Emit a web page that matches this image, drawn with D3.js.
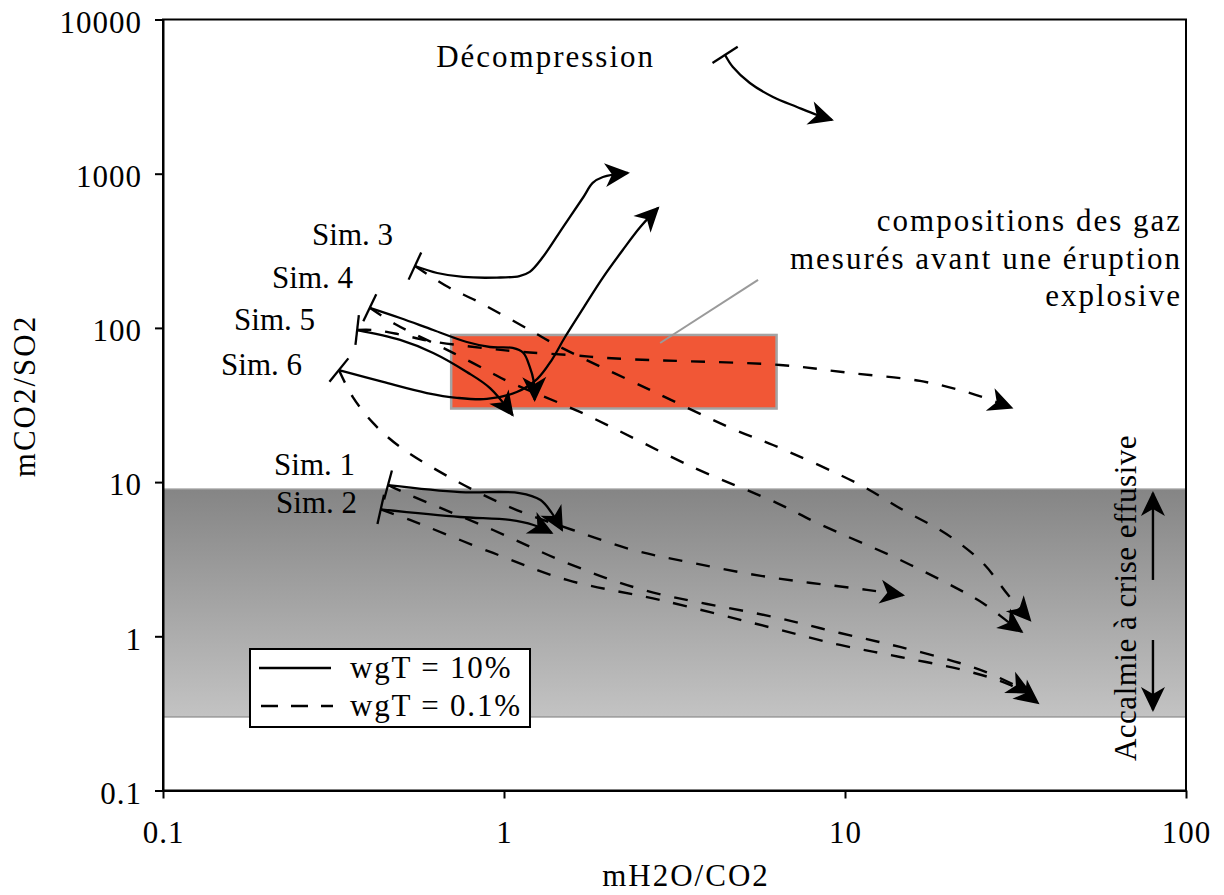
<!DOCTYPE html>
<html><head><meta charset="utf-8">
<script src="https://cdn.jsdelivr.net/npm/d3@7"></script>
<style>
body{margin:0;background:#fff}
svg{display:block}
svg text{font-family:"Liberation Serif","Tinos","Times New Roman","DejaVu Serif","Noto Serif",serif !important;fill:#000}
</style>
</head><body>
<svg id="chart" width="1224" height="895"></svg>
<script>
// ---------- data ----------
const xTickValues = [0.1, 1, 10, 100];
const xTickLabels = ["0.1", "1", "10", "100"];
const yTickValues = [0.1, 1, 10, 100, 1000, 10000];
const yTickLabels = ["0.1", "1", "10", "100", "1000", "10000"];

const simNames = ["Sim. 1", "Sim. 2", "Sim. 3", "Sim. 4", "Sim. 5", "Sim. 6"];
const legendLabels = ["wgT = 10%", "wgT = 0.1%"];

const effusiveYRange = [0.3, 9];
const explosiveXRange = [0.7, 6.3];
const explosiveYRange = [30, 90];
const leaderX = [2.87, 5.56];
const leaderY = [79.8, 205];

const decompX = [4.45, 4.69, 5.26, 6.15, 7.23, 8.28, 9.16];
const decompY = [5890, 4920, 3875, 3143, 2708, 2403, 2230];

const sim1SolidX = [0.457, 0.743, 1.11, 1.28, 1.38, 1.48];
const sim1SolidY = [9.57, 8.62, 8.49, 7.65, 6.31, 4.89];
const sim1DashX = [0.457, 0.530, 0.929, 1.53, 2.56, 6.32, 9.67, 14.5, 21.7, 27.2, 34.9];
const sim1DashY = [9.57, 8.24, 4.89, 2.99, 2.00, 1.32, 1.05, 0.853, 0.671, 0.561, 0.430];

const sim2SolidX = [0.435, 0.743, 1.04, 1.22, 1.38];
const sim2SolidY = [6.65, 5.94, 5.68, 5.27, 4.68];
const sim2DashX = [0.435, 0.530, 0.929, 1.53, 2.87, 6.15, 9.67, 14.5, 22.2, 30.5, 36.8];
const sim2DashY = [6.65, 5.68, 3.47, 2.32, 1.72, 1.13, 0.879, 0.734, 0.604, 0.483, 0.369];

const sim3SolidX = [0.548, 0.637, 0.759, 0.953, 1.11, 1.19, 1.30, 1.49, 1.71, 1.82, 1.95, 2.31];
const sim3SolidY = [252, 227, 214, 212, 217, 231, 288, 451, 706, 871, 952, 1011];
const sim3DashX = [0.548, 0.686, 0.834, 1.19, 1.44, 2.68, 4.76, 6.15, 11.1, 14.8, 19.0, 22.0, 25.7, 30.1, 34.9];
const sim3DashY = [252, 184, 149, 96.9, 76.4, 39.6, 21.8, 17.4, 9.57, 6.59, 4.89, 3.91, 2.90, 1.85, 1.27];

const sim4SolidX = [0.404, 0.496, 0.620, 0.778, 0.910, 1.06, 1.14, 1.19, 1.22, 1.23];
const sim4SolidY = [135, 116, 96.9, 81.0, 75.2, 74.1, 68.8, 55.8, 45.9, 34.1];
const sim4DashX = [0.404, 0.479, 0.637, 0.759, 0.910, 1.02, 1.67, 3.58, 6.32, 8.28, 14.5, 21.7, 25.4, 30.1, 33.0];
const sim4DashY = [135, 106, 77.5, 63.8, 51.8, 45.3, 28.5, 12.5, 7.31, 5.43, 3.13, 2.00, 1.64, 1.24, 1.07];

const sim5SolidX = [0.371, 0.496, 0.620, 0.778, 0.910, 1.06];
const sim5SolidY = [96.9, 83.6, 68.8, 51.8, 40.7, 27.2];
const sim5DashX = [0.371, 0.413, 0.489, 0.607, 0.867, 1.14, 1.56, 2.00, 2.68, 3.28, 6.45, 10.3, 16.6, 23.3, 30.8];
const sim5DashY = [96.9, 96.9, 91.2, 82.2, 74.1, 69.8, 66.7, 63.8, 61.9, 61.0, 57.5, 51.1, 45.3, 37.8, 30.3];

const sim6SolidX = [0.328, 0.442, 0.594, 0.728, 0.891, 1.09, 1.25, 1.38, 1.51, 1.71, 1.95, 2.23, 2.51, 2.83];
const sim6SolidY = [53.3, 44.6, 37.8, 35.2, 34.6, 38.4, 46.6, 61.9, 87.3, 135, 212, 320, 451, 600];
const sim6DashX = [0.328, 0.360, 0.413, 0.496, 0.743, 1.09, 1.59, 2.39, 3.58, 5.90, 11.6, 14.8];
const sim6DashY = [53.3, 35.7, 24.2, 16.9, 9.87, 6.59, 4.89, 3.63, 2.99, 2.43, 2.00, 1.85];

const trendArrowX = [80, 80];
const trendUpY = [2.32, 8.5];
const trendDownY = [0.946, 0.333];

// ---------- layout ----------
const svg = d3.select("#chart");
const x = d3.scaleLog().domain([0.1, 100]).range([163, 1186]);
const y = d3.scaleLog().domain([0.1, 10000]).range([790.5, 19.5]);
const FS = 31;
const FONT = '"Liberation Serif","Tinos","Times New Roman","DejaVu Serif","Noto Serif",serif';

const defs = svg.append("defs");
const grad = defs.append("linearGradient").attr("id", "bandGrad")
  .attr("x1", 0).attr("y1", 0).attr("x2", 0).attr("y2", 1);
grad.append("stop").attr("offset", "0%").attr("stop-color", "#858585");
grad.append("stop").attr("offset", "100%").attr("stop-color", "#c3c3c3");

defs.append("marker").attr("id", "arrow")
  .attr("viewBox", "-28 -15 32 30")
  .attr("refX", 0).attr("refY", 0)
  .attr("markerWidth", 32).attr("markerHeight", 30)
  .attr("markerUnits", "userSpaceOnUse")
  .attr("orient", "auto")
  .append("path").attr("d", "M2,0 L-23,-12 L-16,0 L-23,12 Z").attr("fill", "#000");

// effusive band
svg.append("rect")
  .attr("x", x(0.1)).attr("width", x(100) - x(0.1))
  .attr("y", y(effusiveYRange[1])).attr("height", y(effusiveYRange[0]) - y(effusiveYRange[1]))
  .attr("fill", "url(#bandGrad)").attr("stroke", "#9a9a9a").attr("stroke-width", 1.5);

// explosive box
svg.append("rect")
  .attr("x", x(explosiveXRange[0])).attr("width", x(explosiveXRange[1]) - x(explosiveXRange[0]))
  .attr("y", y(explosiveYRange[1])).attr("height", y(explosiveYRange[0]) - y(explosiveYRange[1]))
  .attr("fill", "#f15736").attr("stroke", "#a3a3a3").attr("stroke-width", 2.5);

// leader line
svg.append("line")
  .attr("x1", x(leaderX[0])).attr("y1", y(leaderY[0]))
  .attr("x2", x(leaderX[1])).attr("y2", y(leaderY[1]))
  .attr("stroke", "#9a9a9a").attr("stroke-width", 2);

// frame
svg.append("rect")
  .attr("x", x(0.1)).attr("y", y(10000))
  .attr("width", x(100) - x(0.1)).attr("height", y(0.1) - y(10000))
  .attr("fill", "none").attr("stroke", "#000").attr("stroke-width", 2);

// axes
const gx = svg.append("g").attr("transform", `translate(0,${y(0.1)})`)
  .call(d3.axisBottom(x).tickValues(xTickValues).tickFormat((d, i) => xTickLabels[i])
    .tickSize(8).tickSizeOuter(0).tickPadding(22));
const gy = svg.append("g").attr("transform", `translate(${x(0.1)},0)`)
  .call(d3.axisLeft(y).tickValues(yTickValues).tickFormat((d, i) => yTickLabels[i])
    .tickSize(8).tickSizeOuter(0).tickPadding(13));
[gx, gy].forEach(g => {
  g.attr("font-family", FONT).attr("font-size", FS);
  g.select(".domain").attr("stroke", "#000").attr("stroke-width", 2);
  g.selectAll(".tick line").attr("stroke", "#000").attr("stroke-width", 2);
  g.selectAll(".tick text").attr("font-size", FS).attr("font-family", FONT)
    .attr("fill", "#000").style("letter-spacing", "1px");
});
gy.selectAll(".tick text").attr("dy", "0.41em");

svg.append("text").attr("x", 686).attr("y", 886).attr("text-anchor", "middle")
  .attr("font-size", FS).style("letter-spacing", "2px").text("mH2O/CO2");
svg.append("text").attr("transform", "translate(35,396) rotate(-90)").attr("text-anchor", "middle")
  .attr("font-size", FS).style("letter-spacing", "2px").text("mCO2/SO2");

// curves
const line = d3.line().x(d => x(d[0])).y(d => y(d[1])).curve(d3.curveCatmullRom.alpha(0.5));
const zip = (a, b) => a.map((v, i) => [v, b[i]]);

const sims = [
  {solid: zip(sim1SolidX, sim1SolidY), dash: zip(sim1DashX, sim1DashY)},
  {solid: zip(sim2SolidX, sim2SolidY), dash: zip(sim2DashX, sim2DashY)},
  {solid: zip(sim3SolidX, sim3SolidY), dash: zip(sim3DashX, sim3DashY)},
  {solid: zip(sim4SolidX, sim4SolidY), dash: zip(sim4DashX, sim4DashY)},
  {solid: zip(sim5SolidX, sim5SolidY), dash: zip(sim5DashX, sim5DashY)},
  {solid: zip(sim6SolidX, sim6SolidY), dash: zip(sim6DashX, sim6DashY)}
];

const curves = svg.append("g").attr("fill", "none").attr("stroke", "#000");
sims.forEach(s => {
  curves.append("path").attr("d", line(s.dash)).attr("stroke-width", 2.4)
    .attr("stroke-dasharray", "14,14").attr("marker-end", "url(#arrow)");
  curves.append("path").attr("d", line(s.solid)).attr("stroke-width", 2.3)
    .attr("marker-end", "url(#arrow)");
});
const decomp = zip(decompX, decompY);
curves.append("path").attr("d", line(decomp)).attr("stroke-width", 2.3).attr("marker-end", "url(#arrow)");

// start ticks
function startTick(paths) {
  const p0 = [x(paths[0][0][0]), y(paths[0][0][1])];
  let vx = 0, vy = 0;
  paths.forEach(p => {
    const dx = x(p[1][0]) - p0[0], dy = y(p[1][1]) - p0[1];
    const L = Math.hypot(dx, dy);
    vx += dx / L; vy += dy / L;
  });
  const L = Math.hypot(vx, vy);
  const nx = -vy / L, ny = vx / L, h = 15;
  curves.append("line")
    .attr("x1", p0[0] + nx * h).attr("y1", p0[1] + ny * h)
    .attr("x2", p0[0] - nx * h).attr("y2", p0[1] - ny * h)
    .attr("stroke-width", 2.3);
}
sims.forEach(s => startTick([s.solid, s.dash]));
startTick([decomp]);

// sim labels (right end, baseline)
const simLabelPos = [[355, 475], [357, 513], [393, 245], [353, 288], [315, 330], [302, 375]];
svg.append("g").selectAll("text").data(simNames).join("text")
  .attr("x", (d, i) => simLabelPos[i][0]).attr("y", (d, i) => simLabelPos[i][1])
  .attr("text-anchor", "end").attr("font-size", FS).text(d => d);

// annotations
svg.append("text").attr("x", 655).attr("y", 67).attr("text-anchor", "end")
  .attr("font-size", FS).style("letter-spacing", "2px").text("Décompression");
const expl = ["compositions des gaz", "mesurés avant une éruption", "explosive"];
svg.append("g").selectAll("text").data(expl).join("text")
  .attr("x", 1182).attr("y", (d, i) => 231 + i * 37.5).attr("text-anchor", "end")
  .attr("font-size", FS).style("letter-spacing", "2px").text(d => d);

svg.append("text").attr("transform", "translate(1136,598) rotate(-90)").attr("text-anchor", "middle")
  .attr("font-size", FS).style("letter-spacing", "0.5px").text("Accalmie à crise effusive");

// trend arrows
svg.append("line").attr("x1", x(trendArrowX[0])).attr("y1", y(trendUpY[0]))
  .attr("x2", x(trendArrowX[1])).attr("y2", y(trendUpY[1]))
  .attr("stroke", "#000").attr("stroke-width", 2.4).attr("marker-end", "url(#arrow)");
svg.append("line").attr("x1", x(trendArrowX[0])).attr("y1", y(trendDownY[0]))
  .attr("x2", x(trendArrowX[1])).attr("y2", y(trendDownY[1]))
  .attr("stroke", "#000").attr("stroke-width", 2.4).attr("marker-end", "url(#arrow)");

// legend
const lg = svg.append("g");
lg.append("rect").attr("x", 250).attr("y", 649).attr("width", 280).attr("height", 78)
  .attr("fill", "#fff").attr("stroke", "#000").attr("stroke-width", 2);
lg.append("line").attr("x1", 259).attr("x2", 331).attr("y1", 668).attr("y2", 668)
  .attr("stroke", "#000").attr("stroke-width", 2.3);
lg.append("line").attr("x1", 261).attr("x2", 333).attr("y1", 706).attr("y2", 706)
  .attr("stroke", "#000").attr("stroke-width", 2.3).attr("stroke-dasharray", "17,13");
lg.selectAll("text.lab").data(legendLabels).join("text").attr("class", "lab")
  .attr("x", 350).attr("y", (d, i) => 678 + i * 38)
  .attr("font-size", FS).style("letter-spacing", "1.8px").text(d => d);
</script>
</body></html>
